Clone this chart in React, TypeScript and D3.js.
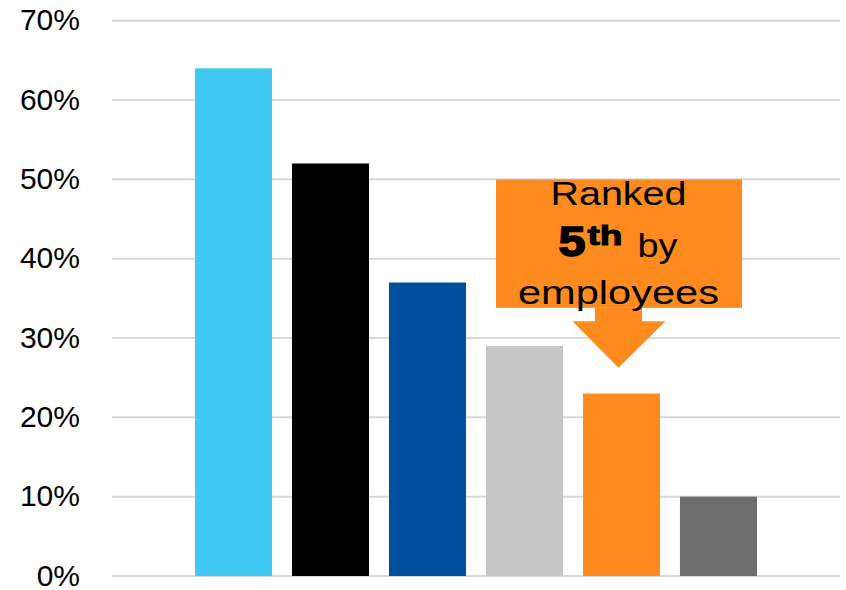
import React from "react";
import * as d3 from "d3";

const categories = ["Cat A", "Cat B", "Cat C", "Cat D", "Cat E", "Cat F"];
const values = [64, 52, 37, 29, 23, 10];
const colors = ["#40C8F5", "#000000", "#0050A0", "#C6C6C6", "#FF8A1E", "#6E6E6E"];
const yTicks = [0, 10, 20, 30, 40, 50, 60, 70];
const highlightIndex = 4;

const W = 846;
const H = 590;

export default function App() {
  const x = d3
    .scaleBand<string>()
    .domain(categories)
    .range([112, 840])
    .paddingInner(0.206)
    .paddingOuter(0.856);
  const y = d3.scaleLinear().domain([0, 70]).range([576, 20.7]);

  const font = "'Liberation Sans', Arial, Helvetica, sans-serif";
  const hx = (x(categories[highlightIndex]) ?? 0) + x.bandwidth() / 2 - 3;
  const boxTop = y(50);
  const boxBottom = boxTop + 128.5;
  const boxL = hx - 122.5;
  const boxR = hx + 123.5;
  const shaftTop = boxBottom;
  const headTop = boxBottom + 13.5;
  const tipY = headTop + 46.5;
  const arrowPts: [number, number][] = [
    [hx - 23.5, shaftTop],
    [hx + 23.5, shaftTop],
    [hx + 23.5, headTop],
    [hx + 47, headTop],
    [hx, tipY],
    [hx - 46, headTop],
    [hx - 23.5, headTop],
  ];
  const orange = colors[highlightIndex];

  return (
    <div style={{ position: "fixed", left: 0, top: 0 }}>
      <svg width={W} height={H} style={{ display: "block", background: "#fff" }}>
        {yTicks.map((t) => (
          <g key={t}>
            <line x1={112} x2={840} y1={y(t)} y2={y(t)} stroke="#D9D9D9" strokeWidth={2} />
            <text
              x={80}
              y={y(t) + 9.5}
              textAnchor="end"
              fontFamily={font}
              fontSize={30}
              fill="#000"
            >
              {t}%
            </text>
          </g>
        ))}
        {categories.map((c, i) => (
          <rect
            key={c}
            x={x(c)}
            y={y(values[i])}
            width={x.bandwidth()}
            height={y(0) - y(values[i])}
            fill={colors[i]}
          />
        ))}
        <rect x={boxL} y={boxTop} width={boxR - boxL} height={boxBottom - boxTop} fill={orange} />
        <polygon points={arrowPts.map((p) => p.join(",")).join(" ")} fill={orange} />
        <text
          x={hx}
          y={boxTop + 25.7}
          textAnchor="middle"
          fontFamily={font}
          fontSize={34}
          textLength={136}
          lengthAdjust="spacingAndGlyphs"
          fill="#000"
        >
          Ranked
        </text>
        <text
          x={hx - 60}
          y={boxTop + 77}
          fontFamily={font}
          fontSize={43}
          fontWeight={900}
          textLength={27}
          lengthAdjust="spacingAndGlyphs"
          stroke="#000"
          strokeWidth={1.6}
          fill="#000"
        >
          5
        </text>
        <text
          x={hx - 31}
          y={boxTop + 66}
          fontFamily={font}
          fontSize={27}
          fontWeight={900}
          textLength={35}
          lengthAdjust="spacingAndGlyphs"
          stroke="#000"
          strokeWidth={1}
          fill="#000"
        >
          th
        </text>
        <text
          x={hx + 19}
          y={boxTop + 78}
          fontFamily={font}
          fontSize={34}
          textLength={40}
          lengthAdjust="spacingAndGlyphs"
          fill="#000"
        >
          by
        </text>
        <text
          x={hx}
          y={boxTop + 124.5}
          textAnchor="middle"
          fontFamily={font}
          fontSize={34}
          textLength={201}
          lengthAdjust="spacingAndGlyphs"
          fill="#000"
        >
          employees
        </text>
      </svg>
    </div>
  );
}
